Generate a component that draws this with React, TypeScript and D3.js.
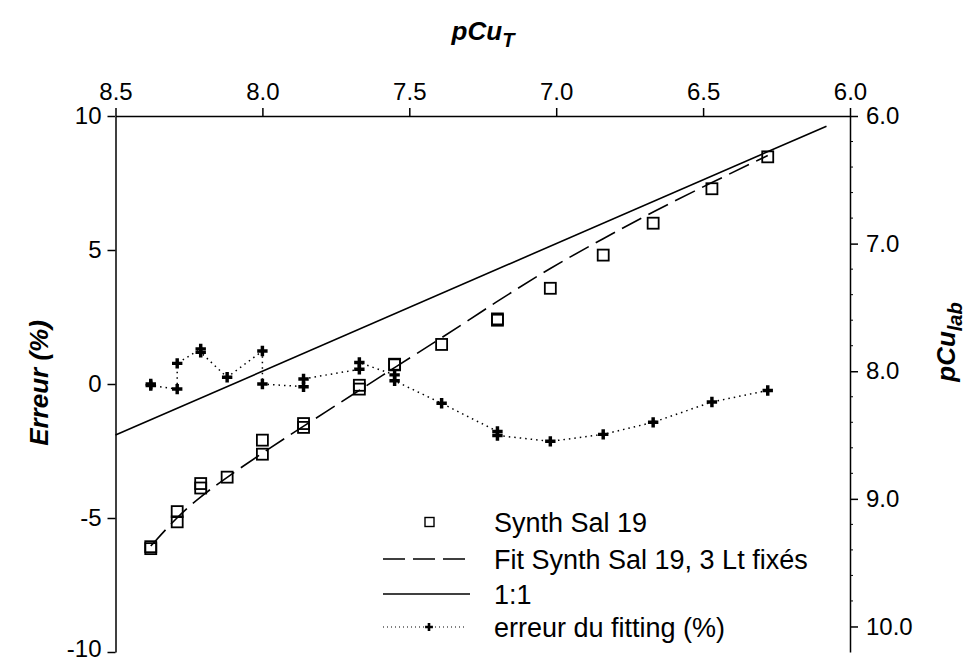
import React, { useRef, useEffect } from "react";
import * as d3 from "d3";

// pCuT (top axis) for every measurement, in the order they were fitted
const pCuT = [
  8.38, 8.38, 8.29, 8.29, 8.21, 8.21, 8.12, 8.0, 8.0, 7.86, 7.86, 7.67, 7.67,
  7.55, 7.55, 7.39, 7.2, 7.2, 7.02, 6.84, 6.67, 6.47, 6.28,
];
// Synth Sal 19 measured pCu (right axis)
const pCuLab = [
  9.375, 9.39, 9.18, 9.1, 8.88, 8.915, 8.83, 8.54, 8.65, 8.41, 8.44, 8.14, 8.11,
  7.945, 7.95, 7.79, 7.59, 7.6, 7.35, 7.09, 6.84, 6.57, 6.32,
];
// erreur du fitting (%) (left axis)
const erreur = [
  0.0, -0.06, -0.19, 0.77, 1.31, 1.18, 0.25, 1.23, 0.0, -0.1, 0.19, 0.55, 0.8,
  0.34, 0.12, -0.72, -1.77, -1.92, -2.14, -1.88, -1.43, -0.67, -0.24,
];
// fitted curve (3 Lt fixés)
const fitT = [8.38, 8.29, 8.21, 8.12, 8.0, 7.86, 7.67, 7.55, 7.39, 7.2, 7.02, 6.84, 6.67, 6.47, 6.28];
const fitLab = [9.37, 9.14, 8.98, 8.83, 8.64, 8.43, 8.15, 7.97, 7.74, 7.45, 7.19, 6.96, 6.75, 6.52, 6.31];
// 1:1 line ends
const oneToOne = [8.5, 6.08];

const topTicks = [8.5, 8.0, 7.5, 7.0, 6.5, 6.0];
const leftTicks = [10, 5, 0, -5, -10];
const rightTicks = [6, 7, 8, 9, 10];

const legendItems = ["Synth Sal 19", "Fit Synth Sal 19, 3 Lt fixés", "1:1", "erreur du fitting (%)"];

const FONT = "'Liberation Sans', Arial, Helvetica, sans-serif";

const App: React.FC = () => {
  const svgRef = useRef<SVGSVGElement>(null);
  const width = 975;
  const height = 661;

  useEffect(() => {
    if (!svgRef.current) return;
    const svg = d3.select(svgRef.current);
    svg.selectAll("*").remove();

    const left = 115.5;
    const right = 850;
    const top = 116;
    const bottom = 652;

    const x = d3.scaleLinear().domain([8.5, 6.0]).range([left, right]);
    const yErr = d3.scaleLinear().domain([-10, 10]).range([bottom, top]);
    const yLab = d3.scaleLinear().domain([6.0, 10.2]).range([top, bottom]);

    const styleAxis = (g: any, size: number) => {
      g.selectAll("path").attr("stroke", "#000").attr("stroke-width", 1.5);
      g.selectAll("line").attr("stroke", "#000").attr("stroke-width", 1.5);
      g.selectAll("text")
        .attr("font-family", FONT)
        .attr("font-size", size)
        .attr("fill", "#000");
    };

    // top axis
    const gTop = svg
      .append("g")
      .attr("transform", `translate(0,${top})`)
      .call(
        d3.axisTop(x).tickValues(topTicks).tickSize(8).tickSizeOuter(0).tickPadding(8).tickFormat(d3.format(".1f"))
      );
    styleAxis(gTop, 24);

    // left axis
    const gLeft = svg
      .append("g")
      .attr("transform", `translate(${left},0)`)
      .call(d3.axisLeft(yErr).tickValues(leftTicks).tickSize(8).tickSizeOuter(0).tickPadding(6).tickFormat(d3.format("d")));
    styleAxis(gLeft, 24);
    gLeft
      .selectAll("text")
      .text((d: any) => (d < 0 ? "-" + Math.abs(d) : String(d)))
      .attr("dy", (d: any) => (d === -10 ? "0.2em" : "0.32em"));

    // right axis, with minor ticks
    const gRight = svg
      .append("g")
      .attr("transform", `translate(${right},0)`)
      .call(d3.axisRight(yLab).tickValues(rightTicks).tickSize(8).tickSizeOuter(0).tickPadding(8).tickFormat(d3.format(".1f")));
    styleAxis(gRight, 24);
    const minor = d3.range(6.2, 10.01, 0.2).filter((v) => Math.abs(v - Math.round(v)) > 0.01);
    gRight
      .selectAll("line.minor")
      .data(minor)
      .enter()
      .append("line")
      .attr("class", "minor")
      .attr("x1", 0)
      .attr("x2", 3)
      .attr("y1", (d) => yLab(d))
      .attr("y2", (d) => yLab(d))
      .attr("stroke", "#000")
      .attr("stroke-width", 1);

    // 1:1 line
    svg
      .append("path")
      .attr(
        "d",
        d3
          .line<number>()
          .x((d) => x(d))
          .y((d) => yLab(d))(oneToOne)
      )
      .attr("fill", "none")
      .attr("stroke", "#000")
      .attr("stroke-width", 1.6);

    // fitted curve
    svg
      .append("path")
      .attr(
        "d",
        d3
          .line<number>()
          .x((d, i) => x(fitT[i]))
          .y((d) => yLab(d))
          .curve(d3.curveBasis)(fitLab)
      )
      .attr("fill", "none")
      .attr("stroke", "#000")
      .attr("stroke-width", 1.6)
      .attr("stroke-dasharray", "22,8");

    // erreur du fitting
    svg
      .append("path")
      .attr(
        "d",
        d3
          .line<number>()
          .x((d, i) => x(pCuT[i]))
          .y((d) => yErr(d))(erreur)
      )
      .attr("fill", "none")
      .attr("stroke", "#000")
      .attr("stroke-width", 1.5)
      .attr("stroke-dasharray", "1.5,4");

    const cross = d3.symbol().type(d3.symbolCross).size(60);
    svg
      .selectAll("path.err")
      .data(erreur)
      .enter()
      .append("path")
      .attr("class", "err")
      .attr("d", cross as any)
      .attr("transform", (d, i) => `translate(${x(pCuT[i])},${yErr(d)})`)
      .attr("fill", "#000");

    // Synth Sal 19 squares
    svg
      .selectAll("rect.pt")
      .data(pCuLab)
      .enter()
      .append("rect")
      .attr("class", "pt")
      .attr("x", (d, i) => x(pCuT[i]) - 5.5)
      .attr("y", (d) => yLab(d) - 5.5)
      .attr("width", 11)
      .attr("height", 11)
      .attr("fill", "none")
      .attr("stroke", "#000")
      .attr("stroke-width", 1.8);

    // legend
    const lg = svg.append("g");
    const rowY = [522, 559, 594, 627];
    const lx0 = 383;
    const lx1 = 467;
    lg.append("rect")
      .attr("x", 425)
      .attr("y", rowY[0] - 4.5)
      .attr("width", 9)
      .attr("height", 9)
      .attr("fill", "none")
      .attr("stroke", "#000")
      .attr("stroke-width", 1.4);
    lg.append("line")
      .attr("x1", lx0)
      .attr("x2", lx1)
      .attr("y1", rowY[1])
      .attr("y2", rowY[1])
      .attr("stroke", "#000")
      .attr("stroke-width", 1.5)
      .attr("stroke-dasharray", "22,8");
    lg.append("line")
      .attr("x1", lx0)
      .attr("x2", lx1 + 3)
      .attr("y1", rowY[2])
      .attr("y2", rowY[2])
      .attr("stroke", "#000")
      .attr("stroke-width", 1.5);
    lg.append("line")
      .attr("x1", lx0)
      .attr("x2", lx1)
      .attr("y1", rowY[3])
      .attr("y2", rowY[3])
      .attr("stroke", "#000")
      .attr("stroke-width", 1.2)
      .attr("stroke-dasharray", "1,3");
    lg.append("path")
      .attr("d", d3.symbol().type(d3.symbolCross).size(34)() as string)
      .attr("transform", `translate(429,${rowY[3]})`)
      .attr("fill", "#000");
    lg.selectAll("text")
      .data(legendItems)
      .enter()
      .append("text")
      .attr("x", 494)
      .attr("y", (d, i) => rowY[i])
      .attr("dy", "0.36em")
      .attr("font-family", FONT)
      .attr("font-size", 27)
      .text((d) => d);

    // axis titles
    const tTop = svg
      .append("text")
      .attr("x", 483)
      .attr("y", 40)
      .attr("text-anchor", "middle")
      .attr("font-family", FONT)
      .attr("font-size", 26)
      .attr("font-weight", "bold")
      .attr("font-style", "italic");
    tTop.append("tspan").text("pCu");
    tTop.append("tspan").attr("dy", 7).attr("font-size", 20).text("T");

    svg
      .append("text")
      .attr("transform", `translate(48,383) rotate(-90)`)
      .attr("text-anchor", "middle")
      .attr("font-family", FONT)
      .attr("font-size", 26)
      .attr("font-weight", "bold")
      .attr("font-style", "italic")
      .text("Erreur (%)");

    const tRight = svg
      .append("text")
      .attr("transform", `translate(955,342) rotate(-90)`)
      .attr("text-anchor", "middle")
      .attr("font-family", FONT)
      .attr("font-size", 26)
      .attr("font-weight", "bold")
      .attr("font-style", "italic");
    tRight.append("tspan").text("pCu");
    tRight.append("tspan").attr("dy", 7).attr("font-size", 20).text("lab");
  }, []);

  return (
    <div style={{ position: "absolute", left: 0, top: 0, background: "#fff" }}>
      <svg ref={svgRef} width={width} height={height} />
    </div>
  );
};

export default App;
